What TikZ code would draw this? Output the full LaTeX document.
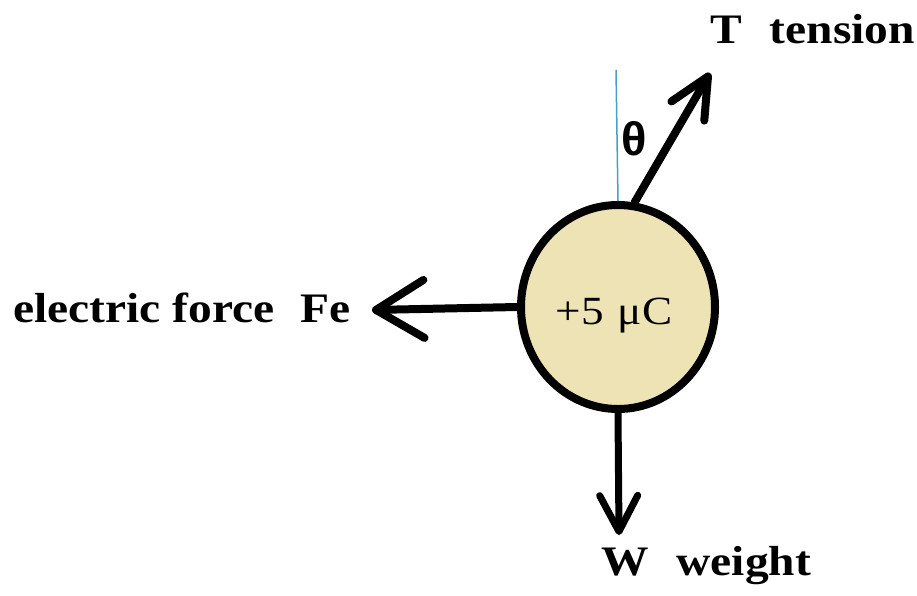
\documentclass[tikz,border=0pt]{standalone}
\usepackage{fontspec}
\usetikzlibrary{shapes.geometric,arrows.meta}
\newfontfamily\lblfont[FakeStretch=1.13]{Liberation Serif}
\newfontfamily\thetafont{Liberation Sans}
\definecolor{ballfill}{RGB}{238,227,180}
\definecolor{guideblue}{RGB}{70,160,200}
\tikzset{
  force/.style={line width=8pt, line cap=round, line join=round},
  biglabel/.style={font=\lblfont\bfseries\fontsize{42}{50}\selectfont, inner sep=0pt, anchor=base west},
}
\begin{document}
\begin{tikzpicture}[x=1pt,y=-1pt]
\useasboundingbox[fill=white] (0,0) rectangle (917,595);
% ball
\node[ellipse, draw, line width=8pt, fill=ballfill, minimum width=194pt, minimum height=204pt, inner sep=0pt] (ball) at (618,307) {};
\node[font=\lblfont\fontsize{40}{44}\selectfont, inner sep=0pt, anchor=base] (q) at (614,324) {+5\hspace{14pt}μC};
% guide line and tension
\coordinate (top) at (616,70);
\draw[guideblue, line width=1.5pt] (ball.north) -- (top);
\coordinate (ttip) at (710,73);
\draw[force, -{Straight Barb[length=40pt, width=38pt, round]}] (ball.81) -- (ttip);
\node[font=\thetafont\bfseries\fontsize{47}{50}\selectfont, inner sep=0pt] (theta) at (634.5,138.5) {θ};
% electric force
\coordinate (fetip) at (372,310);
\draw[force, -{Straight Barb[length=48pt, width=58pt, round]}] (ball.west) -- (fetip);
% weight
\coordinate (wtip) at (619,535);
\draw[force, line width=7pt, -{Straight Barb[length=36pt, width=38pt, round]}] (ball.south) -- (wtip);
% labels
\node[biglabel] (tlabel) at (710,43) {T\hspace{28pt}tension};
\node[biglabel] (felabel) at (13,322) {electric force\hspace{26pt}Fe};
\node[biglabel] (wlabel) at (601,575) {W\hspace{28pt}weight};
\end{tikzpicture}
\end{document}
